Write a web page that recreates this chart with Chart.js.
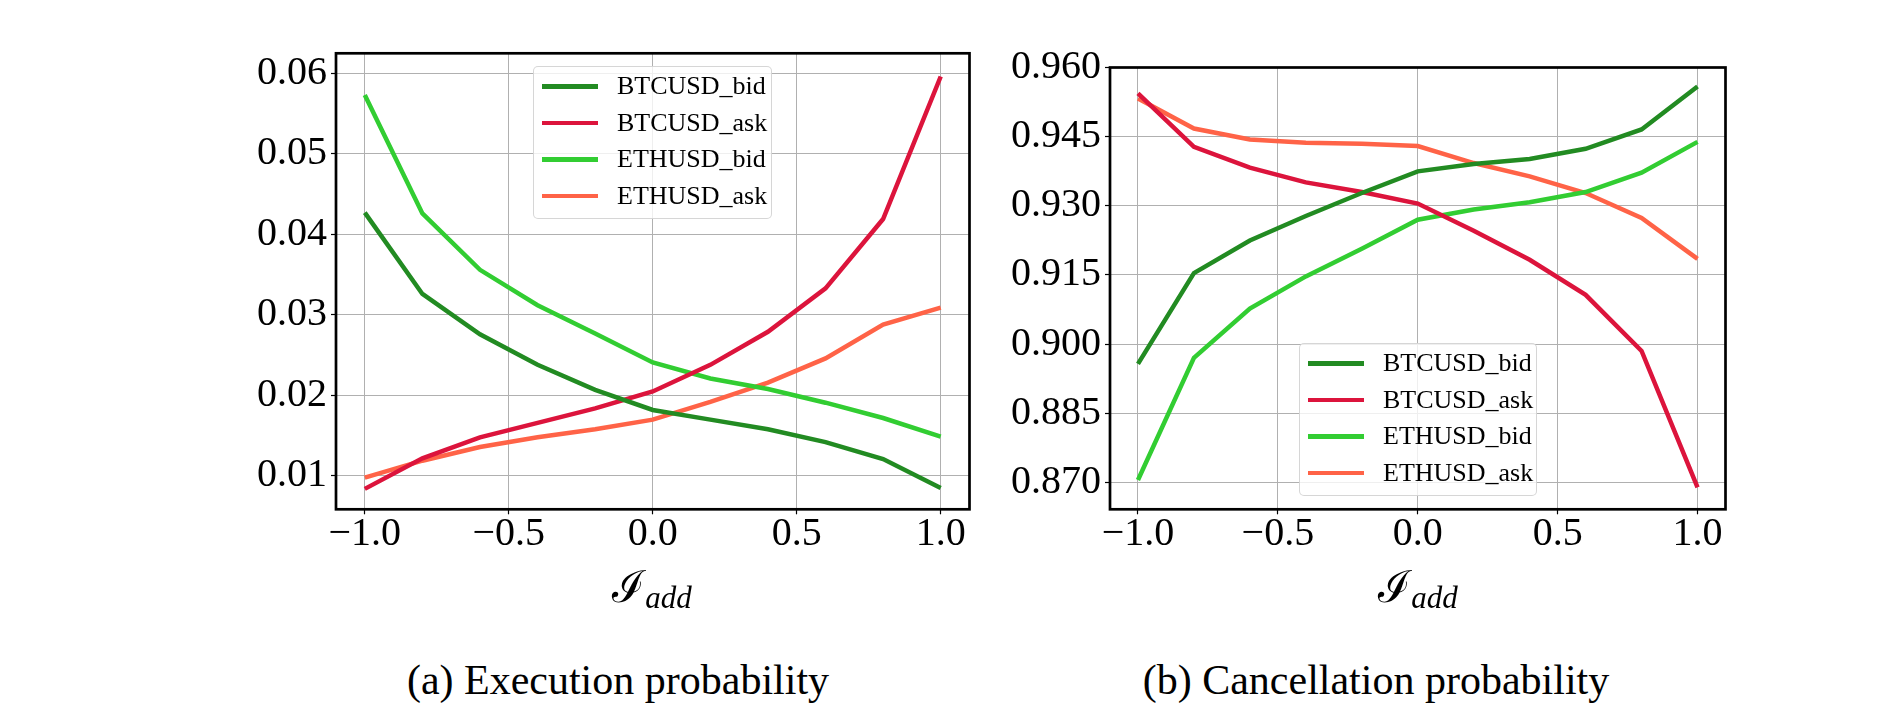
<!DOCTYPE html>
<html>
<head>
<meta charset="utf-8">
<script src="https://cdn.jsdelivr.net/npm/chart.js@4.4.1/dist/chart.umd.min.js"></script>
<style>
  html, body { margin: 0; padding: 0; background: #fff; }
  #page { position: relative; width: 1885px; height: 719px; overflow: hidden; background: #fff; }
  canvas { position: absolute; top: 0; }
  .legend {
    position: absolute; box-sizing: border-box;
    background: rgba(255,255,255,0.8);
    border: 1px solid rgba(204,204,204,0.8); border-radius: 5px;
    padding-top: 1px;
    font-family: "Liberation Serif", serif; font-size: 26px; color: #000;
  }
  .legend .row { display: flex; align-items: center; height: 36.6px; }
  .legend .swatch { width: 56px; height: 4.5px; margin-left: 8px; margin-right: 19px; }
  .xlabel {
    position: absolute; top: 555px; width: 200px; text-align: center;
    font-family: "DejaVu Serif", "Liberation Serif", serif; color: #000; white-space: nowrap;
  }
  .xlabel .big { font-size: 44px; }
  .xlabel sub { font-family: "Liberation Serif", serif; font-style: italic; font-size: 31px; vertical-align: -6px; }
  .caption {
    position: absolute; top: 659px; width: 600px; text-align: center; line-height: 42px;
    font-family: "Liberation Serif", serif; font-size: 42px; color: #000; white-space: nowrap;
  }
</style>
</head>
<body>
<div id="page">
  <canvas id="execChart" width="800" height="560" style="left:200px"></canvas>
  <canvas id="cancelChart" width="800" height="560" style="left:1000px"></canvas>
  <div class="legend" id="execLegend" style="left:533px; top:66px; width:239px; height:153px"></div>
  <div class="legend" id="cancelLegend" style="left:1299px; top:343px; width:238px; height:153px"></div>
  <div class="xlabel" style="left:552px"><span class="big">ℐ</span><sub>add</sub></div>
  <div class="xlabel" style="left:1318px"><span class="big">ℐ</span><sub>add</sub></div>
  <div class="caption" style="left:318px">(a) Execution probability</div>
  <div class="caption" style="left:1076px">(b) Cancellation probability</div>
</div>
<script>
// imbalance values on the x axis
const xValues = [-1.0, -0.8, -0.6, -0.4, -0.2, 0.0, 0.2, 0.4, 0.6, 0.8, 1.0];
const seriesNames = ["BTCUSD_bid", "BTCUSD_ask", "ETHUSD_bid", "ETHUSD_ask"];

// (a) execution probability
const execBtcBid = [0.0427, 0.0326, 0.0276, 0.0238, 0.0207, 0.0182, 0.0170, 0.0158, 0.0142, 0.0121, 0.0085];
const execBtcAsk = [0.0084, 0.0122, 0.0148, 0.0166, 0.0184, 0.0205, 0.0238, 0.0279, 0.0333, 0.0419, 0.0596];
const execEthBid = [0.0573, 0.0426, 0.0356, 0.0312, 0.0277, 0.0241, 0.0221, 0.0208, 0.0191, 0.0172, 0.0149];
const execEthAsk = [0.0098, 0.0119, 0.0136, 0.0148, 0.0158, 0.0170, 0.0192, 0.0216, 0.0246, 0.0288, 0.0309];

// (b) cancellation probability
const cancelBtcBid = [0.8957, 0.9154, 0.9225, 0.9278, 0.9328, 0.9375, 0.9391, 0.9402, 0.9424, 0.9466, 0.9559];
const cancelBtcAsk = [0.9544, 0.9428, 0.9383, 0.9351, 0.9330, 0.9305, 0.9246, 0.9183, 0.9107, 0.8985, 0.8689];
const cancelEthBid = [0.8705, 0.8970, 0.9077, 0.9147, 0.9207, 0.9270, 0.9292, 0.9308, 0.9330, 0.9372, 0.9439];
const cancelEthAsk = [0.9533, 0.9468, 0.9444, 0.9437, 0.9435, 0.9430, 0.9393, 0.9364, 0.9328, 0.9274, 0.9185];

// ticks
const xTickValues = [-1.0, -0.5, 0.0, 0.5, 1.0];
const xTickLabels = ["\u22121.0", "\u22120.5", "0.0", "0.5", "1.0"];
const execTickValues = [0.01, 0.02, 0.03, 0.04, 0.05, 0.06];
const execTickLabels = ["0.01", "0.02", "0.03", "0.04", "0.05", "0.06"];
const cancelTickValues = [0.870, 0.885, 0.900, 0.915, 0.930, 0.945, 0.960];
const cancelTickLabels = ["0.870", "0.885", "0.900", "0.915", "0.930", "0.945", "0.960"];

const lineColors = ["#228B22", "#DC143C", "#32CD32", "#FF6347"];

const tickFont = { family: "Liberation Serif", size: 40, lineHeight: 1.0 };

function toPoints(ys) {
    return xValues.map((x, i) => ({ x: x, y: ys[i] }));
}

function fixedTicks(values) {
    return (scale) => { scale.ticks = values.map((v) => ({ value: v })); };
}

function labelFor(values, labels) {
    return (value) => {
        const i = values.findIndex((v) => Math.abs(v - value) < 1e-9);
        return i >= 0 ? labels[i] : "";
    };
}

// black frame round the plot area, drawn above the lines like the spines
const framePlugin = {
    id: "frame",
    afterDatasetsDraw(chart) {
        const a = chart.chartArea;
        const ctx = chart.ctx;
        ctx.save();
        ctx.strokeStyle = "#000";
        ctx.lineWidth = 2.7;
        ctx.strokeRect(a.left, a.top, a.right - a.left, a.bottom - a.top);
        ctx.restore();
    }
};

function buildLegend(chart, el) {
    el.innerHTML = "";
    chart.data.datasets.forEach((ds) => {
        const row = document.createElement("div");
        row.className = "row";
        const sw = document.createElement("span");
        sw.className = "swatch";
        sw.style.background = ds.borderColor;
        const txt = document.createElement("span");
        txt.textContent = ds.label;
        row.appendChild(sw);
        row.appendChild(txt);
        el.appendChild(row);
    });
}

function createPanel(canvasId, legendId, series, yMin, yMax, yTickValues, yTickLabels, yWidth, pad) {
    const config = {
        type: "line",
        data: {
            datasets: series.map((ys, i) => ({
                label: seriesNames[i],
                data: toPoints(ys),
                borderColor: lineColors[i],
                backgroundColor: lineColors[i],
                borderWidth: 4.5,
                pointRadius: 0,
                tension: 0,
                fill: false
            }))
        },
        options: {
            responsive: false,
            animation: false,
            devicePixelRatio: 1,
            layout: { padding: pad },
            plugins: {
                legend: { display: false },
                tooltip: { enabled: false }
            },
            scales: {
                x: {
                    type: "linear",
                    min: -1.1,
                    max: 1.1,
                    afterBuildTicks: fixedTicks(xTickValues),
                    afterFit: (scale) => { scale.height = 560 - 509.3; },
                    border: { display: false },
                    grid: { color: "#b0b0b0", lineWidth: 1, drawTicks: true, tickLength: 5, tickColor: "#000", tickWidth: 1.2 },
                    ticks: { font: tickFont, color: "#000", padding: 0, maxRotation: 0, callback: labelFor(xTickValues, xTickLabels) }
                },
                y: {
                    type: "linear",
                    min: yMin,
                    max: yMax,
                    afterBuildTicks: fixedTicks(yTickValues),
                    afterFit: (scale) => { scale.width = yWidth; },
                    border: { display: false },
                    grid: { color: "#b0b0b0", lineWidth: 1, drawTicks: true, tickLength: 5, tickColor: "#000", tickWidth: 1.2 },
                    ticks: { font: tickFont, color: "#000", padding: 4, callback: labelFor(yTickValues, yTickLabels) }
                }
            }
        },
        plugins: [framePlugin]
    };
    const chart = new Chart(document.getElementById(canvasId), config);
    buildLegend(chart, document.getElementById(legendId));
    return chart;
}

createPanel("execChart", "execLegend",
    [execBtcBid, execBtcAsk, execEthBid, execEthAsk],
    0.005865, 0.06248, execTickValues, execTickLabels, 136,
    { left: 0, right: 30.5, top: 53.3, bottom: 0 });

createPanel("cancelChart", "cancelLegend",
    [cancelBtcBid, cancelBtcAsk, cancelEthBid, cancelEthAsk],
    0.86414, 0.96004, cancelTickValues, cancelTickLabels, 110,
    { left: 0, right: 74.5, top: 67.5, bottom: 0 });
</script>
</body>
</html>
